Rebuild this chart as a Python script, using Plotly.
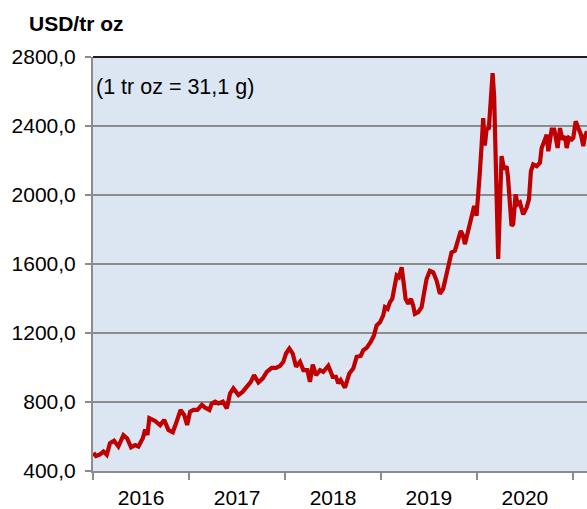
import datetime as dt
import plotly.graph_objects as go

# Decimal-year positions and prices (USD per troy ounce)
year_pos = [
    2016.005, 2016.031, 2016.073, 2016.109, 2016.143, 2016.177, 2016.219, 2016.264, 2016.316, 2016.354,
    2016.396, 2016.4375, 2016.472, 2016.518, 2016.542, 2016.566, 2016.586, 2016.646, 2016.698, 2016.740,
    2016.784, 2016.830, 2016.870, 2016.911, 2016.948, 2016.979, 2017.010, 2017.045, 2017.086, 2017.132,
    2017.167, 2017.211, 2017.236, 2017.271, 2017.305, 2017.351, 2017.393, 2017.427, 2017.461, 2017.514,
    2017.559, 2017.601, 2017.643, 2017.677, 2017.722, 2017.768, 2017.809, 2017.861, 2017.906, 2017.948,
    2017.982, 2018.010, 2018.045, 2018.080, 2018.115, 2018.156, 2018.191, 2018.232, 2018.260, 2018.289,
    2018.323, 2018.365, 2018.399, 2018.451, 2018.497, 2018.531, 2018.555, 2018.580, 2018.625, 2018.670,
    2018.711, 2018.747, 2018.789, 2018.816, 2018.851, 2018.893, 2018.927, 2018.955, 2018.990, 2019.024,
    2019.042, 2019.070, 2019.094, 2019.118, 2019.146, 2019.164, 2019.1875, 2019.216, 2019.232, 2019.257,
    2019.284, 2019.3125, 2019.336, 2019.354, 2019.389, 2019.424, 2019.451, 2019.476, 2019.510, 2019.545,
    2019.580, 2019.615, 2019.649, 2019.674, 2019.695, 2019.736, 2019.771, 2019.799, 2019.833, 2019.857,
    2019.875, 2019.909, 2019.945, 2019.972, 2019.997, 2020.014, 2020.031, 2020.049, 2020.066, 2020.083,
    2020.101, 2020.125, 2020.143, 2020.164, 2020.180, 2020.195, 2020.211, 2020.222, 2020.240, 2020.257,
    2020.284, 2020.309, 2020.323, 2020.344, 2020.361, 2020.378, 2020.403, 2020.424, 2020.448, 2020.482,
    2020.518, 2020.542, 2020.5625, 2020.586, 2020.622, 2020.656, 2020.674, 2020.701, 2020.726, 2020.743,
    2020.760, 2020.778, 2020.805, 2020.840, 2020.865, 2020.889, 2020.917, 2020.934, 2020.958, 2020.986,
    2021.003, 2021.028, 2021.055, 2021.083, 2021.107, 2021.125, 2021.146,
]
price = [
    505, 487, 496, 513, 494, 561, 575, 542, 608, 590,
    537, 550, 542, 590, 640, 609, 706, 690, 665, 696,
    638, 625, 687, 754, 725, 667, 744, 754, 754, 783,
    767, 754, 792, 802, 792, 802, 763, 850, 879, 840,
    860, 889, 917, 956, 913, 937, 975, 998, 998, 1010,
    1033, 1081, 1110, 1081, 1004, 1033, 985, 985, 917, 1017,
    956, 985, 975, 1010, 946, 946, 908, 927, 883, 965,
    994, 1062, 1067, 1100, 1114, 1148, 1186, 1244, 1262, 1302,
    1350, 1340, 1379, 1398, 1475, 1533, 1523, 1581, 1513, 1398,
    1369, 1398, 1359, 1311, 1321, 1350, 1437, 1513, 1561, 1552,
    1504, 1427, 1456, 1513, 1581, 1667, 1677, 1735, 1792, 1763,
    1715, 1792, 1869, 1936, 1879, 1975, 2129, 2283, 2446, 2287,
    2379, 2388, 2552, 2706, 2571, 2283, 1917, 1629, 1936, 2225,
    2148, 2167, 2110, 1917, 1821, 1831, 2004, 1946, 1956, 1888,
    1927, 1975, 2138, 2177, 2167, 2187, 2273, 2311, 2350, 2254,
    2321, 2379, 2379, 2273, 2388, 2321, 2340, 2273, 2331, 2321,
    2331, 2427, 2388, 2350, 2283, 2340, 2369,
]

y_ticks = [400, 800, 1200, 1600, 2000, 2400, 2800]
unit_label = "USD/tr oz"
note_label = "(1 tr oz = 31,1 g)"
x_start = 2016.0
x_end = 2021.146


def to_date(t):
    y = int(t)
    start = dt.datetime(y, 1, 1)
    days = (dt.datetime(y + 1, 1, 1) - start).days
    return start + dt.timedelta(days=(t - y) * days)


dates = [to_date(t) for t in year_pos]
xr = [to_date(x_start), to_date(x_end)]

FONT = "Arial, Liberation Sans, sans-serif"
GRID = "#8c8c8c"

W, H = 587, 509
L, T, B = 93, 57, 36
PW = W - L
PH = H - T - B

fig = go.Figure()
fig.add_trace(go.Scatter(
    x=dates, y=price, mode="lines",
    line=dict(color="#c00000", width=4.2),
    showlegend=False, hoverinfo="skip",
))

fig.update_layout(
    width=W, height=H,
    margin=dict(l=L, r=0, t=T, b=B, pad=0),
    paper_bgcolor="white",
    plot_bgcolor="#dce6f2",
    separators=", ",
    font=dict(family=FONT, size=21, color="black"),
    xaxis=dict(
        type="date", range=xr, dtick="M12", tick0="2016-01-01",
        tickformat="%Y", ticklabelmode="period",
        showgrid=False, showline=True, linecolor=GRID, linewidth=2,
        ticks="outside", ticklen=7, tickwidth=2, tickcolor=GRID,
        tickfont=dict(size=21, family=FONT),
        zeroline=False,
    ),
    xaxis2=dict(
        type="date", range=xr, dtick="M12", tick0="2016-01-01",
        overlaying="x", anchor="y", side="bottom",
        showgrid=False, showline=False, showticklabels=False,
        ticks="inside", ticklen=6, tickwidth=2, tickcolor=GRID,
        zeroline=False,
    ),
    yaxis=dict(
        range=[400, 2800], tickvals=y_ticks, tickformat=".1f",
        showgrid=True, gridcolor=GRID, gridwidth=2,
        showline=True, linecolor=GRID, linewidth=2,
        ticks="outside", ticklen=6, tickwidth=2, tickcolor=GRID,
        tickfont=dict(size=21, family=FONT),
        ticklabelstandoff=5,
        zeroline=False,
    ),
    shapes=[dict(type="line", xref="paper", yref="paper", x0=0, x1=1, y0=1, y1=1,
                 line=dict(color="#1e1e1e", width=2))],
    annotations=[
        dict(text=f"<b>{unit_label}</b>", xref="paper", yref="paper",
             x=(27 - L) / PW, y=(H - B - 23) / PH, xanchor="left", yanchor="middle",
             showarrow=False, font=dict(size=21, family=FONT)),
        dict(text=note_label, xref="paper", yref="paper",
             x=(94 - L) / PW, y=(H - B - 87) / PH, xanchor="left", yanchor="middle",
             showarrow=False, font=dict(size=21.5, family=FONT)),
    ],
)

fig.write_html(
    "out.html",
    config={"displayModeBar": False},
    post_script="document.body.style.margin='0';document.body.style.overflow='hidden';",
)
